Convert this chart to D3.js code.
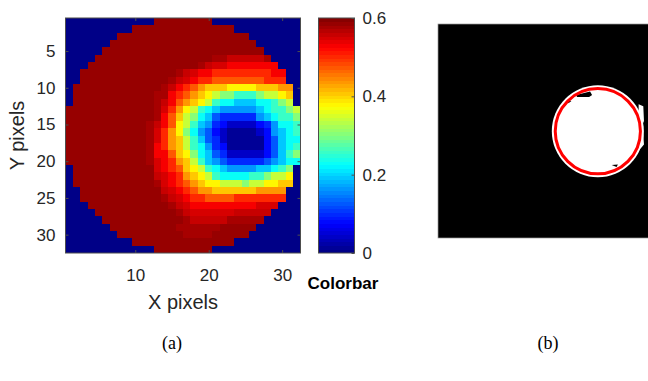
<!DOCTYPE html>
<html>
<head>
<meta charset="utf-8">
<script src="https://cdn.jsdelivr.net/npm/d3@7/dist/d3.min.js"></script>
<style>
  html, body { margin: 0; padding: 0; background: #fff; }
  svg { display: block; }
</style>
</head>
<body>
<div id="chart"></div>
<script>
// 32x32 map, one char per pixel (see levelKeys / levelValues)
const gridRows = [
  '............UUUUUUUU............',
  '.........UUUUUUUUUUUUUU.........',
  '.......UUUUUUUUUUUUUUUUUU.......',
  '......UUUUUUUUUUUUUUUUUUUU......',
  '.....UUUUUUUUUUUUUUUUUUUUUU.....',
  '....UUUUUUUUUUUUUUUUTTSSSSST....',
  '...UUUUUUUUUUUUUUUTSRRQQQQQQQ...',
  '..UUUUUUUUUUUUUTSRQQPPPPPPPPQQ..',
  '..UUUUUUUUUUUUTSRQPPOOOOOOOPPP..',
  '.UUUUUUUUUUUUTSQPONMMMLLLLMMMNN.',
  '.UUUUUUUUUUUTTQPONMLKJJIIIJKKLM.',
  '.UUUUUUUUUUUTSQONMLKIHHGGGHHIJK.',
  'UUUUUUUUUUUUTRPNLKIHGFFFFFGHIIJK',
  'UUUUUUUUUUUUTQOMKJHGEDDDDDFGHIIJ',
  'UUUUUUUUUUUTSQOLKIGFDCBBBBCDFHHI',
  'UUUUUUUUUUUTRPNLJHFECBAAAABCFGHI',
  'UUUUUUUUUUUTRPNMKIGEDBAAAAACEGHH',
  'UUUUUUUUUUUTQPNMKIHFDCAAAAACEGHI',
  'UUUUUUUUUUUTQQOMLJHGEDBBBBBCEGIJ',
  'UUUUUUUUUUUTRQPNMKIGFEDDDDDEFGHH',
  '.UUUUUUUUUUURQPOMLKIHGFFFFGGHIJ.',
  '.UUUUUUUUUUUSRQPNMLKIHHHHIIJKKL.',
  '.UUUUUUUUUUUTRQPONMLLKKKJKKLLMM.',
  '..UUUUUUUUUUUSRQPONNMMMMMMNNNN..',
  '..UUUUUUUUUUUTSRQPPOOOOPPPPPPP..',
  '...UUUUUUUUUUUTSRQQQQQQQQQRRR...',
  '....UUUUUUUUUUUTSRRRRRRSSSSS....',
  '.....UUUUUUUUUUUTSSSSSTTTTT.....',
  '......UUUUUUUUUTTTTTTUUUUU......',
  '.......UUUUUUUUUTTTTUUUUU.......',
  '.........UUUUUUUUUUUUUU.........',
  '............UUUUUUUU............'
];
const levelKeys = ['.', 'A', 'B', 'C', 'D', 'E', 'F', 'G', 'H', 'I', 'J', 'K',
  'L', 'M', 'N', 'O', 'P', 'Q', 'R', 'S', 'T', 'U'];
const levelValues = [0, 0.015, 0.045, 0.075, 0.10, 0.13, 0.16, 0.19, 0.225, 0.26, 0.30, 0.34,
  0.375, 0.41, 0.44, 0.47, 0.50, 0.525, 0.545, 0.56, 0.575, 0.585];

const xTicks = [10, 20, 30];
const yTicks = [5, 10, 15, 20, 25, 30];
const cbTicks = [0, 0.2, 0.4, 0.6];
const cbMax = 0.6;
const nColors = 64;

// panel (b), same 32x32 pixel units
const blobCenter = [23.9, 16.03];
const blobRadius = 6.88;
const fitRadius = 6.37;
const blobBump = [[30.0, 12.0], [30.7, 12.3], [30.8, 14.5], [30.6, 15.0], [30.8, 18.0], [30.3, 18.6], [30.0, 18.6]];
const holes = [
  [[20.64, 10.6], [22.74, 10.08], [23.04, 10.6], [22.6, 10.9], [20.8, 10.9]],
  [[19.3, 11.4], [19.95, 11.5], [19.5, 11.85]],
  [[25.97, 21.08], [26.9, 21.0], [26.7, 21.4]]
];

const W = 648, H = 381;
const font = "'Liberation Sans', Arial, sans-serif";
const txt = '#262626';
const edge = '#4d4d4d';

function clamp(v) { return Math.max(0, Math.min(1, v)); }
function jet(t) {
  const r = clamp(Math.min(4 * t - 1.5, -4 * t + 4.5));
  const g = clamp(Math.min(4 * t - 0.5, -4 * t + 3.5));
  const b = clamp(Math.min(4 * t + 0.5, -4 * t + 2.5));
  return d3.rgb(r * 255, g * 255, b * 255).formatHex();
}
const color = v => jet((Math.min(nColors - 1, Math.floor(v / cbMax * nColors)) + 0.5) / nColors);

const cells = [];
gridRows.forEach((row, r) => {
  row.split('').forEach((ch, c) => {
    cells.push({ col: c + 1, row: r + 1, value: levelValues[levelKeys.indexOf(ch)] });
  });
});

const svg = d3.select('#chart').append('svg')
  .attr('width', W)
  .attr('height', H);

// ---- panel (a) heatmap
const x = d3.scaleLinear().domain([0.5, 32.5]).range([65.5, 300.5]);
const y = d3.scaleLinear().domain([0.5, 32.5]).range([18, 253]);

svg.append('g')
  .selectAll('rect')
  .data(cells)
  .enter()
  .append('rect')
  .attr('x', d => x(d.col - 0.5))
  .attr('y', d => y(d.row - 0.5))
  .attr('width', d => x(d.col + 0.5) - x(d.col - 0.5) + 0.3)
  .attr('height', d => y(d.row + 0.5) - y(d.row - 0.5) + 0.3)
  .attr('fill', d => color(d.value))
  .attr('shape-rendering', 'crispEdges');

function styleAxis(g, showLabels) {
  g.attr('font-size', 17).attr('font-family', font).attr('color', txt);
  g.select('.domain').remove();
  g.selectAll('.tick line').attr('stroke', edge);
  if (!showLabels) g.selectAll('.tick text').remove();
}

svg.append('g')
  .attr('transform', `translate(0,${y(32.5)})`)
  .call(d3.axisBottom(x).tickValues(xTicks).tickSizeInner(-3).tickSizeOuter(0).tickPadding(16))
  .call(g => styleAxis(g, true));
svg.append('g')
  .attr('transform', `translate(0,${y(0.5)})`)
  .call(d3.axisTop(x).tickValues(xTicks).tickSizeInner(-3).tickSizeOuter(0))
  .call(g => styleAxis(g, false));
svg.append('g')
  .attr('transform', `translate(${x(0.5)},0)`)
  .call(d3.axisLeft(y).tickValues(yTicks).tickSizeInner(-3).tickSizeOuter(0).tickPadding(10))
  .call(g => styleAxis(g, true));
svg.append('g')
  .attr('transform', `translate(${x(32.5)},0)`)
  .call(d3.axisRight(y).tickValues(yTicks).tickSizeInner(-3).tickSizeOuter(0))
  .call(g => styleAxis(g, false));

svg.append('rect')
  .attr('x', x(0.5)).attr('y', y(0.5))
  .attr('width', x(32.5) - x(0.5)).attr('height', y(32.5) - y(0.5))
  .attr('fill', 'none').attr('stroke', edge).attr('stroke-width', 1);

svg.append('text')
  .attr('x', (x(0.5) + x(32.5)) / 2).attr('y', 309)
  .attr('text-anchor', 'middle')
  .attr('font-family', font).attr('font-size', 20).attr('fill', txt)
  .text('X pixels');
svg.append('text')
  .attr('transform', `translate(24,${(y(0.5) + y(32.5)) / 2}) rotate(-90)`)
  .attr('text-anchor', 'middle')
  .attr('font-family', font).attr('font-size', 20).attr('fill', txt)
  .text('Y pixels');

// ---- colorbar
const cbX0 = 318.5, cbX1 = 354.5;
const cb = d3.scaleLinear().domain([0, cbMax]).range([253, 18]);
const bins = d3.range(nColors).map(i => ({ lo: i * cbMax / nColors, hi: (i + 1) * cbMax / nColors }));

svg.append('g')
  .selectAll('rect')
  .data(bins)
  .enter()
  .append('rect')
  .attr('x', cbX0)
  .attr('y', d => cb(d.hi))
  .attr('width', cbX1 - cbX0)
  .attr('height', d => cb(d.lo) - cb(d.hi) + 0.4)
  .attr('fill', d => color((d.lo + d.hi) / 2))
  .attr('shape-rendering', 'crispEdges');

svg.append('g')
  .attr('transform', `translate(${cbX1},0)`)
  .call(d3.axisRight(cb).tickValues(cbTicks).tickSizeInner(-3).tickSizeOuter(0).tickPadding(8)
    .tickFormat(d => d === 0 ? '0' : d3.format('.1f')(d)))
  .call(g => styleAxis(g, true));

svg.append('rect')
  .attr('x', cbX0).attr('y', cb(cbMax))
  .attr('width', cbX1 - cbX0).attr('height', cb(0) - cb(cbMax))
  .attr('fill', 'none').attr('stroke', edge).attr('stroke-width', 1);

svg.append('text')
  .attr('x', 343).attr('y', 289)
  .attr('text-anchor', 'middle')
  .attr('font-family', font).attr('font-size', 17).attr('font-weight', 'bold').attr('fill', '#000')
  .text('Colorbar');

// ---- panel (b) binary mask + fitted circle
const bx = d3.scaleLinear().domain([0, 32]).range([438, 652]);
const by = d3.scaleLinear().domain([0, 32]).range([24, 238]);
const rs = d3.scaleLinear().domain([0, 32]).range([0, 214]);
const line = d3.line().x(d => bx(d[0])).y(d => by(d[1]));

svg.append('rect')
  .attr('x', bx(0)).attr('y', by(0))
  .attr('width', bx(32) - bx(0)).attr('height', by(32) - by(0))
  .attr('fill', '#000').attr('stroke', '#9a9a9a').attr('stroke-width', 0.7);

svg.append('circle')
  .attr('cx', bx(blobCenter[0])).attr('cy', by(blobCenter[1]))
  .attr('r', rs(blobRadius))
  .attr('fill', '#fff');
svg.append('path')
  .attr('d', line(blobBump) + 'Z')
  .attr('fill', '#fff');
svg.selectAll('.hole')
  .data(holes)
  .enter()
  .append('path')
  .attr('class', 'hole')
  .attr('d', d => line(d) + 'Z')
  .attr('fill', '#000');
svg.append('circle')
  .attr('cx', bx(blobCenter[0])).attr('cy', by(blobCenter[1]))
  .attr('r', rs(fitRadius))
  .attr('fill', 'none').attr('stroke', '#f00').attr('stroke-width', 3);

// ---- panel captions
const captions = [{ label: '(a)', cx: 172 }, { label: '(b)', cx: 548 }];
svg.selectAll('.caption')
  .data(captions)
  .enter()
  .append('text')
  .attr('class', 'caption')
  .attr('x', d => d.cx).attr('y', 349)
  .attr('text-anchor', 'middle')
  .attr('font-family', "'Liberation Serif', 'Times New Roman', serif")
  .attr('font-size', 18).attr('fill', '#000')
  .text(d => d.label);
</script>
</body>
</html>
